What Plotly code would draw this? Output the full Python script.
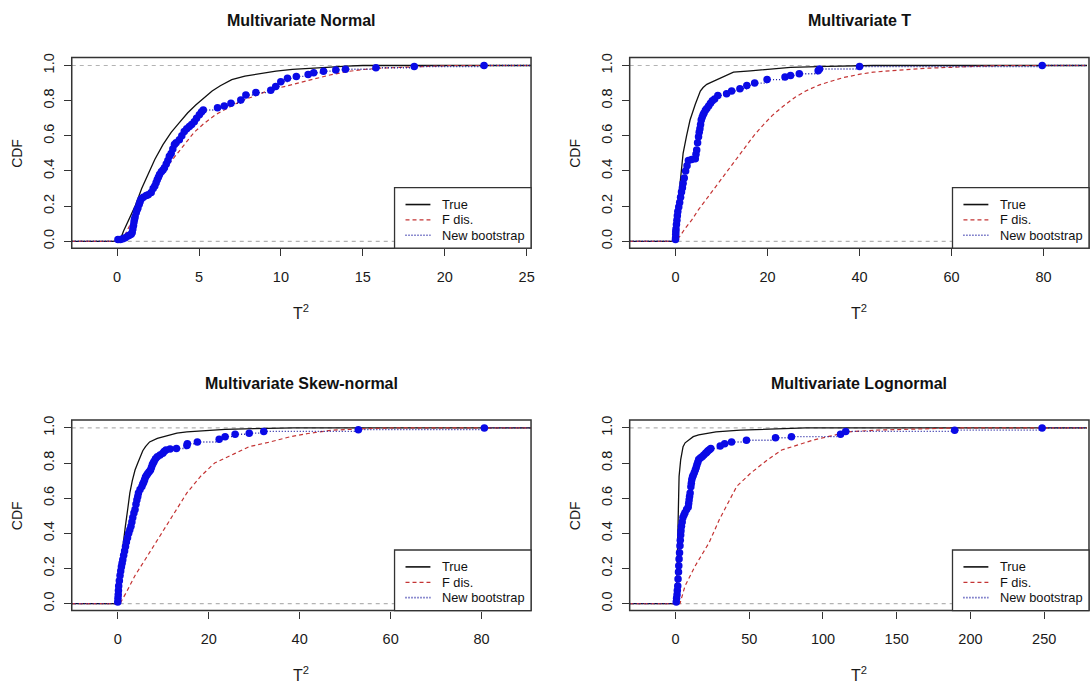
import plotly.graph_objects as go

W, H = 1091, 691

# ---------------- ECDF readings: (T^2, CDF) knots ----------------
# Multivariate Normal
norm_true_x = [0.15, 0.4, 0.75, 1.1, 1.5, 1.9, 2.3, 2.8, 3.3, 3.8, 4.3, 4.8, 5.3, 5.8, 6.3, 7.0, 7.8, 8.7, 9.7, 10.7, 11.7, 12.8, 14.0, 15.0]
norm_true_F = [0.0, 0.06, 0.13, 0.2, 0.3, 0.38, 0.465, 0.55, 0.62, 0.675, 0.73, 0.775, 0.815, 0.855, 0.885, 0.92, 0.94, 0.955, 0.968, 0.978, 0.985, 0.99, 0.996, 1.0]
norm_fdis_x = [0.2, 0.5, 0.8, 1.1, 1.4, 2.0, 2.5, 3.0, 3.5, 4.0, 4.7, 5.3, 6.0, 6.8, 7.6, 8.5, 9.3, 10.2, 11.0, 12.0, 12.9, 14.0, 15.0, 16.1, 18.2, 20.3]
norm_fdis_F = [0.0, 0.04, 0.1, 0.15, 0.2, 0.29, 0.36, 0.42, 0.48, 0.54, 0.62, 0.67, 0.72, 0.76, 0.8, 0.83, 0.86, 0.88, 0.9, 0.925, 0.944, 0.965, 0.977, 0.985, 0.994, 1.0]
norm_boot_x = [0.05, 0.2, 0.35, 0.5, 0.66, 0.75, 0.86, 0.92, 0.96, 1.0, 1.03, 1.06, 1.1, 1.17, 1.22, 1.27, 1.35, 1.4, 1.47, 1.6, 1.78, 1.9,
               2.08, 2.2, 2.3, 2.38, 2.45, 2.52, 2.59, 2.7, 2.8, 2.89, 3.0, 3.1, 3.19, 3.3, 3.4, 3.5, 3.6, 3.8, 3.95, 4.1, 4.25, 4.41,
               4.55, 4.71, 4.85, 5.02, 5.15, 5.26, 6.13, 6.54, 6.95, 7.55, 7.86, 8.47, 9.38, 9.68, 9.99, 10.4, 10.94, 11.66, 12.0,
               12.6, 13.35, 13.94, 15.8, 18.14, 22.4]
norm_boot_F = [0.01, 0.01, 0.015, 0.02, 0.03, 0.035, 0.04, 0.05, 0.07, 0.09, 0.11, 0.126, 0.14, 0.164, 0.18, 0.19, 0.21, 0.225, 0.24, 0.25, 0.26, 0.265,
               0.277, 0.3, 0.315, 0.333, 0.35, 0.365, 0.38, 0.395, 0.405, 0.418, 0.44, 0.46, 0.484, 0.5, 0.525, 0.55, 0.56, 0.578, 0.6, 0.625, 0.64, 0.653,
               0.665, 0.68, 0.7, 0.72, 0.735, 0.747, 0.76, 0.77, 0.785, 0.804, 0.832, 0.846, 0.86, 0.88, 0.908, 0.927, 0.938, 0.949, 0.959,
               0.968, 0.975, 0.979, 0.987, 0.994, 1.0]

# Multivariate T
t_true_x = [0.0, 0.3, 0.9, 1.65, 2.4, 3.16, 4.3, 4.8, 5.4, 6.0, 6.8, 7.6, 9.0, 10.5, 12.6, 16.3, 20.1, 25.0, 33.0, 43.0]
t_true_F = [0.0, 0.15, 0.29, 0.5, 0.6, 0.69, 0.78, 0.82, 0.855, 0.875, 0.893, 0.903, 0.92, 0.94, 0.962, 0.97, 0.98, 0.99, 0.995, 1.0]
t_fdis_x = [0.0, 1.0, 2.0, 3.5, 5.0, 7.0, 9.0, 11.0, 13.0, 15.0, 17.0, 19.0, 21.0, 23.0, 25.0, 26.0, 28.3, 31.3, 34.0, 36.6, 40.4, 43.0, 46.5, 51.0, 55.0, 60.0, 65.0, 70.0]
t_fdis_F = [0.0, 0.03, 0.07, 0.12, 0.18, 0.25, 0.32, 0.39, 0.46, 0.53, 0.6, 0.66, 0.715, 0.76, 0.8, 0.82, 0.855, 0.89, 0.912, 0.932, 0.952, 0.962, 0.97, 0.98, 0.985, 0.99, 0.995, 1.0]
t_boot_x = [0.0, 0.02, 0.05, 0.07, 0.1, 0.2, 0.3, 0.4, 0.5, 0.7, 0.9, 1.1, 1.3, 1.5, 1.65, 1.9, 2.2, 2.5, 2.8, 3.5, 4.3, 4.45, 4.6, 4.8, 5.0,
            5.15, 5.3, 5.45, 5.6, 5.8, 6.0, 6.2, 6.5, 6.8, 7.2, 7.6, 8.0, 8.5, 9.2, 11.1, 12.2, 14.0, 15.5, 17.2, 19.9, 23.8, 25.0, 26.9,
            31.0, 31.3, 40.0, 79.7]
t_boot_F = [0.01, 0.02, 0.04, 0.055, 0.07, 0.095, 0.12, 0.145, 0.17, 0.195, 0.22, 0.25, 0.28, 0.305, 0.33, 0.36, 0.4, 0.43, 0.46, 0.465, 0.47, 0.495, 0.52, 0.56, 0.595,
            0.62, 0.64, 0.665, 0.69, 0.705, 0.72, 0.73, 0.745, 0.755, 0.77, 0.785, 0.8, 0.81, 0.83, 0.84, 0.855, 0.868, 0.887, 0.9, 0.92, 0.934, 0.943, 0.953,
            0.97, 0.98, 0.994, 1.0]

# Multivariate Skew-normal
sn_true_x = [0.0, 0.3, 0.75, 1.2, 1.67, 2.2, 2.66, 3.2, 3.8, 4.4, 4.94, 5.5, 6.1, 7.0, 8.7, 10.0, 11.4, 13.0, 15.2, 19.8, 23.6, 30.0, 38.7]
sn_true_F = [0.0, 0.15, 0.254, 0.35, 0.44, 0.54, 0.63, 0.7, 0.76, 0.8, 0.836, 0.87, 0.893, 0.92, 0.94, 0.95, 0.96, 0.97, 0.977, 0.987, 0.992, 0.996, 1.0]
sn_fdis_x = [0.5, 2.0, 3.8, 6.1, 8.4, 10.6, 12.9, 15.2, 18.2, 21.3, 25.8, 28.9, 33.5, 38.0, 41.8, 47.2, 54.8, 61.0]
sn_fdis_F = [0.0, 0.07, 0.16, 0.254, 0.348, 0.44, 0.536, 0.63, 0.724, 0.8, 0.855, 0.893, 0.92, 0.95, 0.968, 0.987, 0.996, 1.0]
sn_boot_x = [0.0, 0.05, 0.1, 0.15, 0.2, 0.35, 0.5, 0.65, 0.8, 0.95, 1.1, 1.3, 1.5, 1.7, 1.9, 2.15, 2.4, 2.65, 2.9, 3.1, 3.3, 3.55, 3.8, 4.0,
             4.2, 4.4, 4.55, 4.9, 5.3, 5.5, 5.7, 5.9, 6.1, 6.35, 6.6, 6.9, 7.2, 7.4, 7.6, 7.8, 8.0, 8.3, 8.7, 9.3, 9.9, 10.2, 10.6, 11.5,
             12.9, 15.2, 15.3, 17.5, 22.3, 23.6, 25.8, 28.9, 32.1, 52.9, 80.6]
sn_boot_F = [0.01, 0.03, 0.05, 0.075, 0.1, 0.13, 0.16, 0.185, 0.21, 0.23, 0.25, 0.275, 0.3, 0.325, 0.35, 0.375, 0.4, 0.42, 0.44, 0.465, 0.49, 0.515, 0.536, 0.565,
             0.59, 0.61, 0.63, 0.65, 0.667, 0.68, 0.69, 0.705, 0.72, 0.73, 0.74, 0.75, 0.76, 0.775, 0.79, 0.8, 0.81, 0.825, 0.836, 0.845, 0.855, 0.865, 0.874, 0.88,
             0.883, 0.9, 0.91, 0.92, 0.936, 0.95, 0.964, 0.97, 0.98, 0.99, 1.0]

# Multivariate Lognormal
ln_true_x = [0.0, 0.8, 1.2, 1.6, 2.0, 2.4, 3.5, 5.1, 6.5, 8.6, 12.0, 15.7, 27.4, 43.9, 60.0, 88.4]
ln_true_F = [0.0, 0.1, 0.25, 0.536, 0.63, 0.724, 0.82, 0.893, 0.915, 0.93, 0.95, 0.96, 0.977, 0.987, 0.992, 1.0]
ln_fdis_x = [3.0, 6.4, 13.4, 18.0, 22.8, 29.8, 36.8, 41.5, 50.9, 62.6, 72.0, 81.4, 93.1, 104.9, 116.6, 135.4, 168.0, 192.0]
ln_fdis_F = [0.0, 0.1, 0.216, 0.28, 0.348, 0.48, 0.59, 0.667, 0.742, 0.82, 0.874, 0.9, 0.93, 0.953, 0.977, 0.987, 0.996, 1.0]
ln_boot_x = [0.5, 0.7, 1.0, 1.2, 1.5, 1.7, 2.0, 2.2, 2.4, 2.7, 3.0, 3.2, 3.5, 3.7, 4.0, 4.5, 5.0, 5.7, 6.4, 7.5, 8.6, 8.9, 9.2, 9.5, 9.9,
             10.4, 10.7, 11.0, 11.5, 12.0, 12.7, 13.4, 14.0, 14.5, 15.1, 15.7, 16.8, 18.0, 19.2, 20.4, 21.2, 22.0, 23.0, 23.9, 30.3, 33.3,
             38.0, 48.1, 67.8, 78.6, 111.9, 115.4, 189.3, 248.6]
ln_boot_F = [0.01, 0.03, 0.05, 0.075, 0.1, 0.14, 0.18, 0.215, 0.254, 0.29, 0.33, 0.36, 0.39, 0.415, 0.44, 0.465, 0.49, 0.505, 0.517, 0.535, 0.55, 0.57, 0.59, 0.61, 0.63,
             0.665, 0.685, 0.705, 0.72, 0.73, 0.745, 0.76, 0.775, 0.79, 0.805, 0.82, 0.828, 0.836, 0.845, 0.855, 0.862, 0.87, 0.876, 0.883, 0.897, 0.91,
             0.92, 0.93, 0.944, 0.95, 0.964, 0.98, 0.987, 1.0]

titles = ["Multivariate Normal", "Multivariate T", "Multivariate Skew-normal", "Multivariate Lognormal"]
x_ticks = [[0, 5, 10, 15, 20, 25], [0, 20, 40, 60, 80], [0, 20, 40, 60, 80], [0, 50, 100, 150, 200, 250]]
y_ticks = [0.0, 0.2, 0.4, 0.6, 0.8, 1.0]
y_tick_text = ["0.0", "0.2", "0.4", "0.6", "0.8", "1.0"]
legend_labels = ["True", "F dis.", "New bootstrap"]

series = [
    (norm_true_x, norm_true_F, norm_fdis_x, norm_fdis_F, norm_boot_x, norm_boot_F),
    (t_true_x, t_true_F, t_fdis_x, t_fdis_F, t_boot_x, t_boot_F),
    (sn_true_x, sn_true_F, sn_fdis_x, sn_fdis_F, sn_boot_x, sn_boot_F),
    (ln_true_x, ln_true_F, ln_fdis_x, ln_fdis_F, ln_boot_x, ln_boot_F),
]

# ---------------- layout geometry (pixels) ----------------
# plot box: left, right, top, bottom
boxes = [(72, 533, 54, 246), (632, 1093, 54, 246), (72, 533, 419, 611), (632, 1093, 419, 611)]
x_ranges = [[-2.77, 25.27], [-9.96, 89.87], [-10.12, 90.87], [-31.1, 280.4]]
y_range = [-0.0395, 1.045]

BLACK = "#111111"
RED = "#C43434"
BLUE_PT = "#0A0AE6"
BLUE_LN = "#1C1CA0"
GRAY = "#B3B3B3"
FRAME = "#333333"
FONT = "Liberation Sans, Arial, sans-serif"


def fx(px):
    return px / W


def fy(py):
    return 1 - py / H


fig = go.Figure()
shapes = []
annotations = []

for i in range(4):
    n = i + 1
    xa = "x" if n == 1 else f"x{n}"
    ya = "y" if n == 1 else f"y{n}"
    L, R, T, B = boxes[i]
    xr = x_ranges[i]
    # x data range visible on screen (plot box may run past the canvas edge)
    dom_r = min(R, W)
    xr_vis = [xr[0], xr[0] + (xr[1] - xr[0]) * (dom_r - L) / (R - L)]

    fig.layout[f"xaxis{'' if n == 1 else n}"] = dict(
        domain=[fx(L), fx(dom_r)], range=xr_vis, anchor=ya,
        showgrid=False, zeroline=False, showline=False,
        ticks="outside", ticklen=7, tickwidth=1, tickcolor=FRAME,
        tickvals=x_ticks[i], ticktext=[str(v) for v in x_ticks[i]],
        tickfont=dict(family=FONT, size=14.5, color="#1a1a1a"), ticklabelstandoff=8,
    )
    fig.layout[f"yaxis{'' if n == 1 else n}"] = dict(
        domain=[fy(B), fy(T)], range=y_range, anchor=xa,
        showgrid=False, zeroline=False, showline=False,
        ticks="outside", ticklen=7, tickwidth=1, tickcolor=FRAME,
        tickvals=y_ticks, ticktext=y_tick_text, tickangle=-90,
        tickfont=dict(family=FONT, size=14.5, color="#1a1a1a"), ticklabelstandoff=4,
    )

    tx, tF, fxs, fF, bx, bF = series[i]
    lo, hi = xr[0], xr[1]

    # reference lines at CDF 0 and 1
    for h in (0, 1):
        shapes.append(dict(type="line", xref=f"{xa} domain", yref=ya, x0=0, x1=1, y0=h, y1=h,
                           line=dict(color=GRAY, width=1.2, dash="4px,4px"), layer="below"))

    # True and F-distribution ECDFs
    fig.add_trace(go.Scatter(x=[lo] + tx + [hi], y=[0] + tF + [1], mode="lines",
                             line=dict(color=BLACK, width=1.3), xaxis=xa, yaxis=ya,
                             showlegend=False, hoverinfo="skip"))
    fig.add_trace(go.Scatter(x=[lo] + fxs + [hi], y=[0] + fF + [1], mode="lines",
                             line=dict(color=RED, width=1.2, dash="4px,3px"), xaxis=xa, yaxis=ya,
                             showlegend=False, hoverinfo="skip"))

    # bootstrap ECDF: horizontal steps (dotted) plus points at each knot
    sx, sy = [lo, bx[0], None], [0, 0, None]
    for k in range(len(bx)):
        nxt = bx[k + 1] if k + 1 < len(bx) else hi
        sx += [bx[k], nxt, None]
        sy += [bF[k], bF[k], None]
    fig.add_trace(go.Scatter(x=sx, y=sy, mode="lines",
                             line=dict(color=BLUE_LN, width=1.4, dash="1px,2px"), xaxis=xa, yaxis=ya,
                             showlegend=False, hoverinfo="skip", connectgaps=False))
    fig.add_trace(go.Scatter(x=bx, y=bF, mode="markers",
                             marker=dict(color=BLUE_PT, size=7.5, line=dict(width=0)), xaxis=xa, yaxis=ya,
                             showlegend=False, hoverinfo="skip"))

    # plot frame
    shapes.append(dict(type="rect", xref="paper", yref="paper", x0=fx(L), x1=fx(R), y0=fy(B), y1=fy(T),
                       line=dict(color=FRAME, width=1.5), layer="above"))

    # legend box in the lower-right corner
    lg_l = L + 324
    lg_t = B - 61
    shapes.append(dict(type="rect", xref="paper", yref="paper", x0=fx(lg_l), x1=fx(R), y0=fy(B), y1=fy(lg_t),
                       fillcolor="white", line=dict(color=FRAME, width=1.3), layer="above"))
    styles = [(BLACK, "solid", 1.6), (RED, "4px,3px", 1.3), (BLUE_LN, "1px,2px", 1.6)]
    for j, (lab, (col, dsh, wd)) in enumerate(zip(legend_labels, styles)):
        yy = lg_t + 17 + j * 15.5
        shapes.append(dict(type="line", xref="paper", yref="paper", x0=fx(lg_l + 11), x1=fx(lg_l + 36),
                           y0=fy(yy), y1=fy(yy), line=dict(color=col, width=wd, dash=dsh), layer="above"))
        annotations.append(dict(text=lab, xref="paper", yref="paper", x=fx(lg_l + 46), y=fy(yy),
                                xanchor="left", yanchor="middle", showarrow=False,
                                font=dict(family=FONT, size=12.8, color="#111111")))

    cx = (L + R) / 2
    # panel title
    annotations.append(dict(text=f"<b>{titles[i]}</b>", xref="paper", yref="paper", x=fx(cx), y=fy(T - 37),
                            xanchor="center", yanchor="middle", showarrow=False,
                            font=dict(family=FONT, size=16, color="#111111")))
    # axis titles
    annotations.append(dict(text="CDF", xref="paper", yref="paper", x=fx(L - 55), y=fy((T + B) / 2),
                            xanchor="center", yanchor="middle", showarrow=False, textangle=-90,
                            font=dict(family=FONT, size=14, color="#1a1a1a")))
    annotations.append(dict(text="T<sup>2</sup>", xref="paper", yref="paper", x=fx(cx), y=fy(B + 64),
                            xanchor="center", yanchor="middle", showarrow=False,
                            font=dict(family=FONT, size=16, color="#1a1a1a")))

fig.update_layout(
    width=W, height=H, margin=dict(l=0, r=0, t=0, b=0),
    paper_bgcolor="white", plot_bgcolor="white",
    shapes=shapes, annotations=annotations, showlegend=False,
)

fig.write_html("out.html", include_plotlyjs=True, config={"displayModeBar": False})
